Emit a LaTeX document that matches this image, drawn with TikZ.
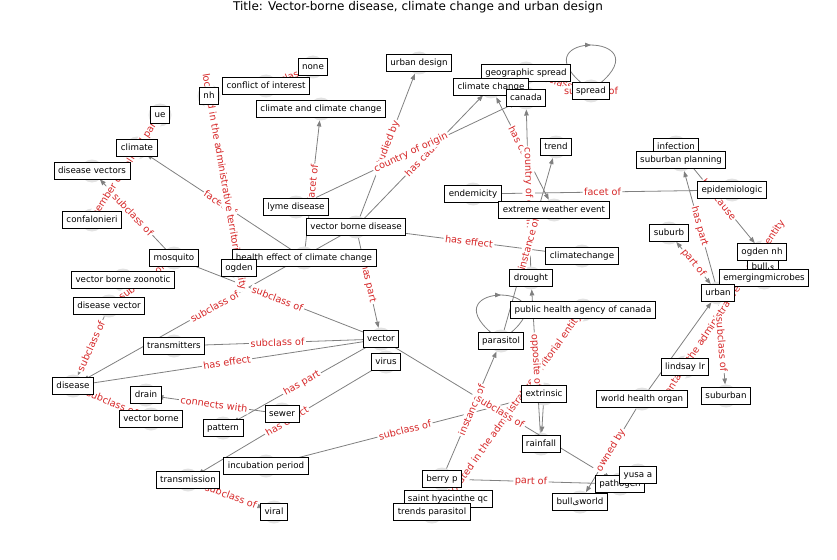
\documentclass[tikz,border=0pt]{standalone}
\usepackage{fontspec}
\setmainfont{DejaVu Sans}
\usetikzlibrary{arrows.meta,decorations.markings}
\definecolor{labred}{RGB}{214,39,40}
\definecolor{linegray}{RGB}{128,128,128}
\definecolor{dotgray}{RGB}{226,226,226}

\begin{document}
\begin{tikzpicture}[x=1pt, y=1pt,
    vtx/.style={circle, fill=dotgray, minimum size=23pt, inner sep=0pt, outer sep=0pt},
    box/.style={draw=black, line width=0.9pt, fill=white, font=\fontsize{8.7}{10}\selectfont,
        inner xsep=4pt, inner ysep=4pt, text height=6.6pt, text depth=2.1pt},
    link/.style={draw=linegray, line width=0.8pt, -{Triangle[length=6pt,width=4.5pt]}},
    twoway/.style={link, {Triangle[length=6pt,width=4.5pt]}-{Triangle[length=6pt,width=4.5pt]}},
    tag/.style={text=labred, fill=white, font=\fontsize{9.7}{11}\selectfont, inner sep=1.5pt},
    elbl/.style={tag, sloped},
    selfloop/.style={draw=linegray, line width=0.8pt, postaction={decorate},
        decoration={markings, mark=at position 0.5 with {\arrow{Triangle[length=6pt,width=4.5pt]}}}}]
    \useasboundingbox (0,0) rectangle (837,-559);
    \node[font=\fontsize{12}{14}\selectfont] (title) at (418,-7) {Title: Vector-borne disease, climate change and urban design};

    % graph vertices
    \node[vtx] (urbandesign) at (419,-63) {};
    \node[vtx] (none) at (313,-67) {};
    \node[vtx] (conflict) at (266,-86) {};
    \node[vtx] (nh) at (209,-96) {};
    \node[vtx] (geospread) at (526,-73) {};
    \node[vtx] (climchange) at (491,-87) {};
    \node[vtx] (canada) at (526,-98) {};
    \node[vtx] (spread) at (591,-91) {};
    \node[vtx] (climclim) at (321,-109) {};
    \node[vtx] (ue) at (160,-115) {};
    \node[vtx] (climate) at (137,-148) {};
    \node[vtx] (diseasevectors) at (92,-171) {};
    \node[vtx] (trend) at (556,-147) {};
    \node[vtx] (infection) at (676,-147) {};
    \node[vtx] (suburbanplanning) at (681,-160) {};
    \node[vtx] (epidemiologic) at (732,-190) {};
    \node[vtx] (endemicity) at (473,-194) {};
    \node[vtx] (extremeweather) at (554,-210) {};
    \node[vtx] (confalonieri) at (92,-220) {};
    \node[vtx] (lyme) at (296,-207) {};
    \node[vtx] (vbd) at (356,-227) {};
    \node[vtx] (suburb) at (669,-233) {};
    \node[vtx] (ogdennh) at (762,-252) {};
    \node[vtx] (climatechange) at (582,-256) {};
    \node[vtx] (healtheffect) at (304,-258) {};
    \node[vtx] (mosquito) at (174,-258) {};
    \node[vtx] (ogden) at (239,-268) {};
    \node[vtx] (bulls) at (763,-267) {};
    \node[vtx] (emerging) at (764,-278) {};
    \node[vtx] (vbz) at (123,-280) {};
    \node[vtx] (drought) at (531,-278) {};
    \node[vtx] (urban) at (718,-293) {};
    \node[vtx] (diseasevector) at (109,-306) {};
    \node[vtx] (phac) at (583,-310) {};
    \node[vtx] (parasitol) at (501,-341) {};
    \node[vtx] (vector) at (381,-339) {};
    \node[vtx] (transmitters) at (174,-346) {};
    \node[vtx] (virus) at (386,-362) {};
    \node[vtx] (lindsay) at (685,-367) {};
    \node[vtx] (disease) at (73,-386) {};
    \node[vtx] (drain) at (146,-395) {};
    \node[vtx] (extrinsic) at (544,-394) {};
    \node[vtx] (whorgan) at (642,-399) {};
    \node[vtx] (suburban) at (726,-396) {};
    \node[vtx] (vectorborne) at (151,-419) {};
    \node[vtx] (sewer) at (282,-414) {};
    \node[vtx] (pattern) at (223,-428) {};
    \node[vtx] (rainfall) at (541,-444) {};
    \node[vtx] (incubation) at (266,-466) {};
    \node[vtx] (transmission) at (188,-480) {};
    \node[vtx] (yusa) at (638,-475) {};
    \node[vtx] (pathogen) at (620,-484) {};
    \node[vtx] (berry) at (442,-479) {};
    \node[vtx] (sainthyacinthe) at (448,-499) {};
    \node[vtx] (bullworld) at (580,-502) {};
    \node[vtx] (viral) at (274,-512) {};
    \node[vtx] (trendsparasitol) at (432,-512) {};

    % connectors
    \draw[link] (vbd) -- (urbandesign);
    \draw[link] (vbd) -- (climchange);
    \draw[link] (lyme) -- (canada);
    \draw[link] (healtheffect) -- (climclim);
    \draw[link] (healtheffect) -- (climate);
    \draw[link] (ogden) -- (nh);
    \draw[link] (confalonieri) -- (ue);
    \draw[link] (mosquito) -- (diseasevectors);
    \draw[link] (mosquito) -- (vector);
    \draw[link] (vbd) -- (disease);
    \draw[link] (transmitters) -- (vector);
    \draw[link] (vector) -- (disease);
    \draw[link] (vbd) -- (vector);
    \draw[link] (vbd) -- (climatechange);
    \draw[link] (vector) -- (pattern);
    \draw[link] (virus) -- (transmission);
    \draw[link] (sewer) -- (drain);
    \draw[link] (disease) -- (vectorborne);
    \draw[link] (diseasevector) -- (disease);
    \draw[link] (diseasevector) -- (mosquito);
    \draw[twoway] (extremeweather) -- (climchange);
    \draw[link] (drought) -- (canada);
    \draw[link] (parasitol) -- (trend);
    \draw[link] (endemicity) -- (epidemiologic);
    \draw[link] (urban) -- (suburbanplanning);
    \draw[link] (infection) -- (ogdennh);
    \draw[link] (ogdennh) -- (lindsay);
    \draw[link] (phac) -- (sainthyacinthe);
    \draw[twoway] (suburb) -- (urban);
    \draw[twoway] (urban) -- (suburban);
    \draw[link] (whorgan) -- (bullworld);
    \draw[link] (whorgan) -- (urban);
    \draw[link] (berry) -- (parasitol);
    \draw[link] (berry) -- (pathogen);
    \draw[link] (vector) -- (pathogen);
    \draw[link] (incubation) -- (extrinsic);
    \draw[link] (transmission) -- (viral);
    \draw[link] (extrinsic) -- (rainfall);
    \draw[link] (rainfall) -- (drought);
    \draw[link] (geospread) -- (spread);
    \draw[link] (conflict) -- (none);
    \draw[selfloop] (spread) to[out=140, in=40, min distance=80pt] (spread);
    \draw[selfloop] (parasitol) to[out=140, in=40, min distance=80pt] (parasitol);

    % connector labels
    \path (vbd) -- node[elbl] {studied by} (urbandesign);
    \path (vbd) -- node[elbl] {has cause} (climchange);
    \path (lyme) -- node[elbl] {country of origin} (canada);
    \path (healtheffect) -- node[elbl] {facet of} (climclim);
    \path (healtheffect) -- node[elbl] {facet of} (climate);
    \path (ogden) -- node[elbl] {located in the administrative territorial entity} (nh);
    \path (diseasevector) -- node[elbl] {subclass of} (mosquito);
    \path (confalonieri) -- node[elbl] {member of political party} (ue);
    \path (mosquito) -- node[elbl] {subclass of} (diseasevectors);
    \path (mosquito) -- node[elbl] {subclass of} (vector);
    \path (vbd) -- node[elbl] {subclass of} (disease);
    \path (transmitters) -- node[elbl] {subclass of} (vector);
    \path (vector) -- node[elbl] {has effect} (disease);
    \path (vbd) -- node[elbl] {has part} (vector);
    \path (vbd) -- node[elbl] {has effect} (climatechange);
    \path (vector) -- node[elbl] {has part} (pattern);
    \path (virus) -- node[elbl] {has effect} (transmission);
    \path (sewer) -- node[elbl] {connects with} (drain);
    \path (disease) -- node[elbl] {subclass of} (vectorborne);
    \path (diseasevector) -- node[elbl] {subclass of} (disease);
    \path (extremeweather) -- node[elbl] {has cause} (climchange);
    \path (drought) -- node[elbl] {country of origin} (canada);
    \path (parasitol) -- node[elbl] {instance of} (trend);
    \path (endemicity) -- node[elbl] {facet of} (epidemiologic);
    \path (urban) -- node[elbl] {has part} (suburbanplanning);
    \path (infection) -- node[elbl] {has cause} (ogdennh);
    \path (ogdennh) -- node[elbl] {contains the administrative territorial entity} (lindsay);
    \path (phac) -- node[elbl] {located in the administrative territorial entity} (sainthyacinthe);
    \path (suburb) -- node[elbl] {part of} (urban);
    \path (urban) -- node[elbl] {subclass of} (suburban);
    \path (whorgan) -- node[elbl] {owned by} (bullworld);
    \path (berry) -- node[elbl] {instance of} (parasitol);
    \path (berry) -- node[elbl] {part of} (pathogen);
    \path (vector) -- node[elbl] {subclass of} (pathogen);
    \path (incubation) -- node[elbl] {subclass of} (extrinsic);
    \path (transmission) -- node[elbl] {subclass of} (viral);
    \path (rainfall) -- node[elbl] {opposite of} (drought);
    \path (geospread) -- node[elbl] {subclass of} (spread);
    \path (conflict) -- node[elbl] {subclass of} (none);
    \node[tag] (spread-loop) at (spread) {subclass of};

    % vertex names
    \node[box] (urbandesign-t) at (urbandesign) {urban design};
    \node[box] (none-t) at (none) {none};
    \node[box] (conflict-t) at (conflict) {conflict of interest};
    \node[box] (nh-t) at (nh) {nh};
    \node[box] (geospread-t) at (geospread) {geographic spread};
    \node[box] (climchange-t) at (climchange) {climate change};
    \node[box] (canada-t) at (canada) {canada};
    \node[box] (spread-t) at (spread) {spread};
    \node[box] (climclim-t) at (climclim) {climate and climate change};
    \node[box] (ue-t) at (ue) {ue};
    \node[box] (climate-t) at (climate) {climate};
    \node[box] (diseasevectors-t) at (diseasevectors) {disease vectors};
    \node[box] (trend-t) at (trend) {trend};
    \node[box] (infection-t) at (infection) {infection};
    \node[box] (suburbanplanning-t) at (suburbanplanning) {suburban planning};
    \node[box] (epidemiologic-t) at (epidemiologic) {epidemiologic};
    \node[box] (endemicity-t) at (endemicity) {endemicity};
    \node[box] (extremeweather-t) at (extremeweather) {extreme weather event};
    \node[box] (confalonieri-t) at (confalonieri) {confalonieri};
    \node[box] (lyme-t) at (lyme) {lyme disease};
    \node[box] (vbd-t) at (vbd) {vector borne disease};
    \node[box] (suburb-t) at (suburb) {suburb};
    \node[box] (bulls-t) at (bulls) {bullی};
    \node[box] (ogdennh-t) at (ogdennh) {ogden nh};
    \node[box] (climatechange-t) at (climatechange) {climatechange};
    \node[box] (healtheffect-t) at (healtheffect) {health effect of climate change};
    \node[box] (mosquito-t) at (mosquito) {mosquito};
    \node[box] (ogden-t) at (ogden) {ogden};
    \node[box] (emerging-t) at (emerging) {emergingmicrobes};
    \node[box] (vbz-t) at (vbz) {vector borne zoonotic};
    \node[box] (drought-t) at (drought) {drought};
    \node[box] (urban-t) at (urban) {urban};
    \node[box] (diseasevector-t) at (diseasevector) {disease vector};
    \node[box] (phac-t) at (phac) {public health agency of canada};
    \node[box] (parasitol-t) at (parasitol) {parasitol};
    \node[box] (vector-t) at (vector) {vector};
    \node[box] (transmitters-t) at (transmitters) {transmitters};
    \node[box] (virus-t) at (virus) {virus};
    \node[box] (lindsay-t) at (lindsay) {lindsay lr};
    \node[box] (disease-t) at (disease) {disease};
    \node[box] (drain-t) at (drain) {drain};
    \node[box] (extrinsic-t) at (extrinsic) {extrinsic};
    \node[box] (whorgan-t) at (whorgan) {world health organ};
    \node[box] (suburban-t) at (suburban) {suburban};
    \node[box] (vectorborne-t) at (vectorborne) {vector borne};
    \node[box] (sewer-t) at (sewer) {sewer};
    \node[box] (pattern-t) at (pattern) {pattern};
    \node[box] (rainfall-t) at (rainfall) {rainfall};
    \node[box] (incubation-t) at (incubation) {incubation period};
    \node[box] (transmission-t) at (transmission) {transmission};
    \node[box] (pathogen-t) at (pathogen) {pathogen};
    \node[box] (yusa-t) at (yusa) {yusa a};
    \node[box] (berry-t) at (berry) {berry p};
    \node[box] (sainthyacinthe-t) at (sainthyacinthe) {saint hyacinthe qc};
    \node[box] (trendsparasitol-t) at (trendsparasitol) {trends parasitol};
    \node[box] (bullworld-t) at (bullworld) {bullیworld};
    \node[box] (viral-t) at (viral) {viral};
\end{tikzpicture}
\end{document}
